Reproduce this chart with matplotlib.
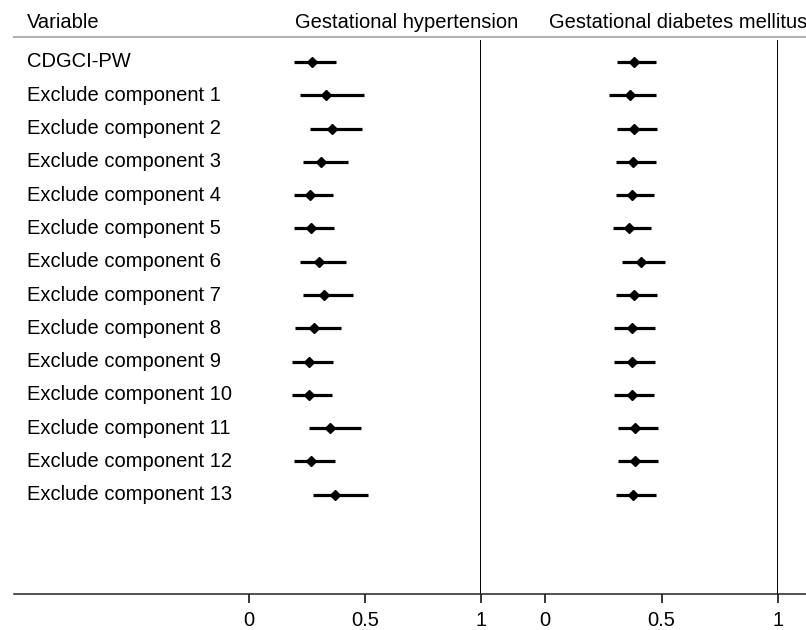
import numpy as np
import matplotlib
matplotlib.use('Agg')
import matplotlib.pyplot as plt
from matplotlib.lines import Line2D
from matplotlib import transforms

plt.rcParams['font.family'] = ['Liberation Sans', 'DejaVu Sans']

# data
labels = ['CDGCI-PW'] + ['Exclude component %d' % i for i in range(1, 14)]

gh_est = [0.270, 0.332, 0.356, 0.312, 0.263, 0.269, 0.300, 0.322, 0.279, 0.257, 0.257, 0.351, 0.269, 0.371]
gh_lo  = [0.194, 0.220, 0.263, 0.231, 0.194, 0.192, 0.220, 0.231, 0.198, 0.187, 0.187, 0.257, 0.192, 0.274]
gh_hi  = [0.374, 0.497, 0.487, 0.428, 0.364, 0.368, 0.417, 0.448, 0.395, 0.364, 0.358, 0.481, 0.372, 0.513]

gdm_est = [0.384, 0.363, 0.384, 0.378, 0.373, 0.361, 0.410, 0.384, 0.373, 0.373, 0.373, 0.388, 0.388, 0.378]
gdm_lo  = [0.308, 0.275, 0.308, 0.303, 0.303, 0.291, 0.330, 0.303, 0.298, 0.298, 0.298, 0.313, 0.313, 0.303]
gdm_hi  = [0.477, 0.477, 0.482, 0.477, 0.467, 0.456, 0.515, 0.482, 0.473, 0.473, 0.467, 0.487, 0.487, 0.477]

headers = ['Gestational hypertension', 'Gestational diabetes mellitus']
xticks = [0, 0.5, 1]
xticklabels = ['0', '0.5', '1']

W, H = 806, 630
fig = plt.figure(figsize=(W / 100, H / 100), dpi=100)

ax_top, ax_bot = 40, 594
fs = 14.5
rows = np.arange(len(labels))

def panel(left_px, width_px, est, lo, hi):
    ax = fig.add_axes([left_px / W, 1 - ax_bot / H, width_px / W, (ax_bot - ax_top) / H])
    ax.set_xlim(0, 1)
    ax.set_ylim(15.98, -0.66)
    ax.hlines(rows, lo, hi, color='black', lw=2.3)
    ax.plot(est, rows, 'D', color='black', ms=5, ls='none')
    ax.axvline(1, color='black', lw=1.4)
    for s in ax.spines.values():
        s.set_visible(False)
    ax.set_yticks([])
    ax.set_xticks(xticks)
    ax.set_xticklabels(xticklabels, fontsize=fs)
    ax.tick_params(axis='x', direction='out', length=6.5, width=1.1, pad=5.5, colors='black')
    ax.patch.set_alpha(0)
    return ax

ax1 = panel(249, 232, gh_est, gh_lo, gh_hi)
ax2 = panel(545, 233, gdm_est, gdm_lo, gdm_hi)

# row labels
tr = transforms.blended_transform_factory(fig.transFigure, ax1.transData)
for i, lab in enumerate(labels):
    ax1.text(27 / W, i, lab, transform=tr, ha='left', va='center', fontsize=fs, clip_on=False)

# header
hy = 1 - 22 / H
fig.text(27 / W, hy, 'Variable', ha='left', va='center', fontsize=fs)
fig.text(295 / W, hy, headers[0], ha='left', va='center', fontsize=fs)
fig.text(549 / W, hy, headers[1], ha='left', va='center', fontsize=fs)

# header rule and bottom axis line
fig.add_artist(Line2D([14 / W, 1], [1 - 36.5 / H] * 2, color='#b4b4b4', lw=1.5))
fig.add_artist(Line2D([14 / W, 1], [1 - ax_bot / H] * 2, color='#222222', lw=1.1))

fig.savefig('out.png', dpi=100)
